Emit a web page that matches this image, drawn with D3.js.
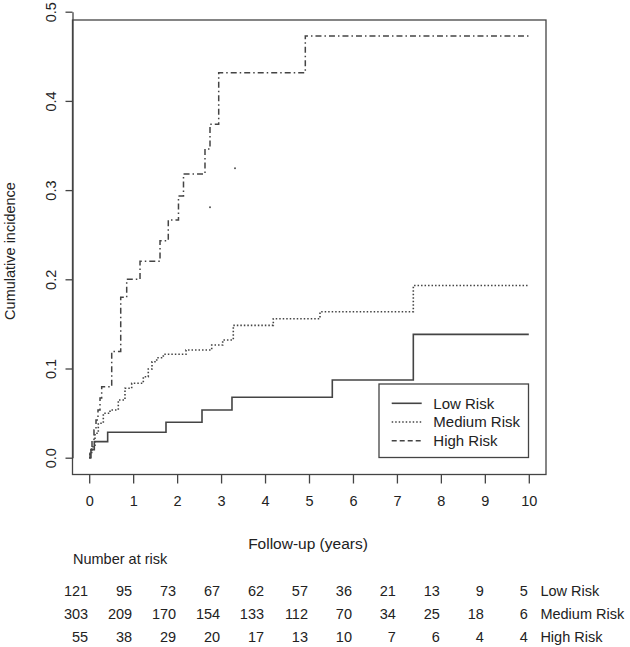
<!DOCTYPE html>
<html>
<head>
<meta charset="utf-8">
<script src="https://cdn.jsdelivr.net/npm/d3@7"></script>
<style>
  body { margin: 0; background: #fff; }
  svg { display: block; font-family: "Liberation Sans", Arial, sans-serif; }
  text { fill: #222; }
</style>
</head>
<body>
<svg id="chart" width="630" height="647"></svg>
<script>
'use strict';

// x axis ticks (years) and y axis ticks
var timeTicks = [0, 1, 2, 3, 4, 5, 6, 7, 8, 9, 10];
var incidenceTicks = [0, 0.1, 0.2, 0.3, 0.4, 0.5];
var followUpEnd = 10;

var groupNames = ['Low Risk', 'Medium Risk', 'High Risk'];

// step curves: event times and cumulative incidence after each event
var lowTimes = [0, 0.04, 0.116, 0.42, 1.747, 2.566, 3.248, 5.53, 7.373];
var lowValues = [0, 0.009, 0.018, 0.0285, 0.0397, 0.0535, 0.0677, 0.0871, 0.1383];

var mediumTimes = [0, 0.018, 0.057, 0.132, 0.207, 0.321, 0.473, 0.662, 0.814, 0.967, 1.231, 1.344, 1.429, 1.536, 1.686, 2.202, 2.787, 3.037, 3.278, 4.188, 5.25, 7.373];
var mediumValues = [0, 0.005, 0.0123, 0.0274, 0.0386, 0.0498, 0.0535, 0.0647, 0.0778, 0.0834, 0.0908, 0.0994, 0.1076, 0.112, 0.1159, 0.1207, 0.1263, 0.132, 0.1484, 0.1558, 0.1637, 0.193];

var highTimes = [0, 0.018, 0.064, 0.109, 0.155, 0.2, 0.246, 0.284, 0.512, 0.717, 0.853, 1.156, 1.611, 1.799, 2.031, 2.145, 2.634, 2.748, 2.946, 4.916];
var highValues = [0, 0.0086, 0.0198, 0.031, 0.0423, 0.0535, 0.0669, 0.0796, 0.1191, 0.1798, 0.2, 0.2202, 0.2433, 0.2665, 0.2934, 0.318, 0.3461, 0.3738, 0.4316, 0.4728];

// two isolated marks inside the plot
var markTimes = [2.748, 3.317];
var markValues = [0.2807, 0.3244];

// number at risk table
var lowAtRisk = [121, 95, 73, 67, 62, 57, 36, 21, 13, 9, 5];
var mediumAtRisk = [303, 209, 170, 154, 133, 112, 70, 34, 25, 18, 6];
var highAtRisk = [55, 38, 29, 20, 17, 13, 10, 7, 6, 4, 4];

var ink = '#444';
var svg = d3.select('#chart');

var box = {left: 72.5, right: 546, top: 20, bottom: 474.5};

var x = d3.scaleLinear().domain([0, 10]).range([89.2, 528.8]);
var y = d3.scaleLinear().domain([0, 0.5]).range([457.7, 11.7]);

// plot box
svg.append('rect')
	.attr('x', box.left).attr('y', box.top)
	.attr('width', box.right - box.left)
	.attr('height', box.bottom - box.top)
	.attr('fill', 'none')
	.attr('stroke', ink)
	.attr('stroke-width', 1.3);

// x axis
var xAxis = svg.append('g')
	.attr('transform', 'translate(0,' + box.bottom + ')')
	.call(d3.axisBottom(x).tickValues(timeTicks).tickSize(9).tickPadding(12).tickFormat(d3.format('d')));
xAxis.select('.domain').remove();
xAxis.selectAll('line').attr('stroke', ink).attr('stroke-width', 1.3);
xAxis.selectAll('text').attr('font-size', '14.5px').attr('fill', '#222').attr('font-family', null);

// y axis, rotated labels like R
var yAxis = svg.append('g')
	.attr('transform', 'translate(' + box.left + ',0)')
	.call(d3.axisLeft(y).tickValues(incidenceTicks).tickSize(7).tickSizeOuter(0).tickFormat(d3.format('.1f')));
yAxis.select('.domain').attr('stroke', ink).attr('stroke-width', 1.3);
yAxis.selectAll('line').attr('stroke', ink).attr('stroke-width', 1.3);
yAxis.selectAll('text')
	.attr('font-size', '14.5px').attr('fill', '#222').attr('font-family', null)
	.attr('x', null).attr('dy', null)
	.attr('text-anchor', 'middle')
	.attr('transform', 'translate(-17,0) rotate(-90)');

// axis titles
svg.append('text')
	.attr('x', 308).attr('y', 549)
	.attr('text-anchor', 'middle')
	.attr('font-size', '15.5px')
	.text('Follow-up (years)');

svg.append('text')
	.attr('transform', 'translate(15,251) rotate(-90)')
	.attr('text-anchor', 'middle')
	.attr('font-size', '14.5px')
	.text('Cumulative incidence');

// curves
var line = d3.line()
	.x(function(d) { return x(d[0]); })
	.y(function(d) { return y(d[1]); })
	.curve(d3.curveStepAfter);

function stepPoints(times, values) {
	var pts = times.map(function(t, i) { return [t, values[i]]; });
	pts.push([followUpEnd, values[values.length - 1]]);
	return pts;
}

var curves = [
	{pts: stepPoints(lowTimes, lowValues), dash: null, width: 1.6},
	{pts: stepPoints(mediumTimes, mediumValues), dash: '1.5,2', width: 1.6},
	{pts: stepPoints(highTimes, highValues), dash: '6,3,1.5,3', width: 1.5}
];

svg.selectAll('path.curve')
	.data(curves)
	.enter().append('path')
		.attr('class', 'curve')
		.attr('fill', 'none')
		.attr('stroke', ink)
		.attr('stroke-width', function(d) { return d.width; })
		.attr('stroke-dasharray', function(d) { return d.dash; })
		.attr('d', function(d) { return line(d.pts); });

svg.selectAll('circle.mark')
	.data(markTimes)
	.enter().append('circle')
		.attr('class', 'mark')
		.attr('cx', function(d) { return x(d); })
		.attr('cy', function(d, i) { return y(markValues[i]); })
		.attr('r', 1)
		.attr('fill', '#555');

// legend
var legend = svg.append('g');
legend.append('rect')
	.attr('x', 379).attr('y', 384)
	.attr('width', 149.5).attr('height', 73.5)
	.attr('fill', '#fff')
	.attr('stroke', ink)
	.attr('stroke-width', 1.3);

var legendDash = [null, '1.5,2', '5,3'];
groupNames.forEach(function(name, i) {
	var cy = 403.3 + i * 18.7;
	legend.append('line')
		.attr('x1', 391.7).attr('x2', 421.7)
		.attr('y1', cy).attr('y2', cy)
		.attr('stroke', ink)
		.attr('stroke-width', 1.6)
		.attr('stroke-dasharray', legendDash[i]);
	legend.append('text')
		.attr('x', 433.3).attr('y', cy + 5.3)
		.attr('font-size', '15px')
		.text(name);
});

// number at risk table, right-aligned under the x ticks
svg.append('text')
	.attr('x', 73).attr('y', 564)
	.attr('font-size', '14.5px')
	.text('Number at risk');

var rows = [lowAtRisk, mediumAtRisk, highAtRisk];
rows.forEach(function(counts, r) {
	var base = 596.2 + r * 23;
	svg.selectAll(null)
		.data(counts)
		.enter().append('text')
			.attr('x', function(d, i) { return x(timeTicks[i]) - 1; })
			.attr('y', base)
			.attr('text-anchor', 'end')
			.attr('font-size', '14.5px')
			.text(function(d) { return d; });
	svg.append('text')
		.attr('x', 540.4).attr('y', base)
		.attr('font-size', '14.5px')
		.text(groupNames[r]);
});
</script>
</body>
</html>
